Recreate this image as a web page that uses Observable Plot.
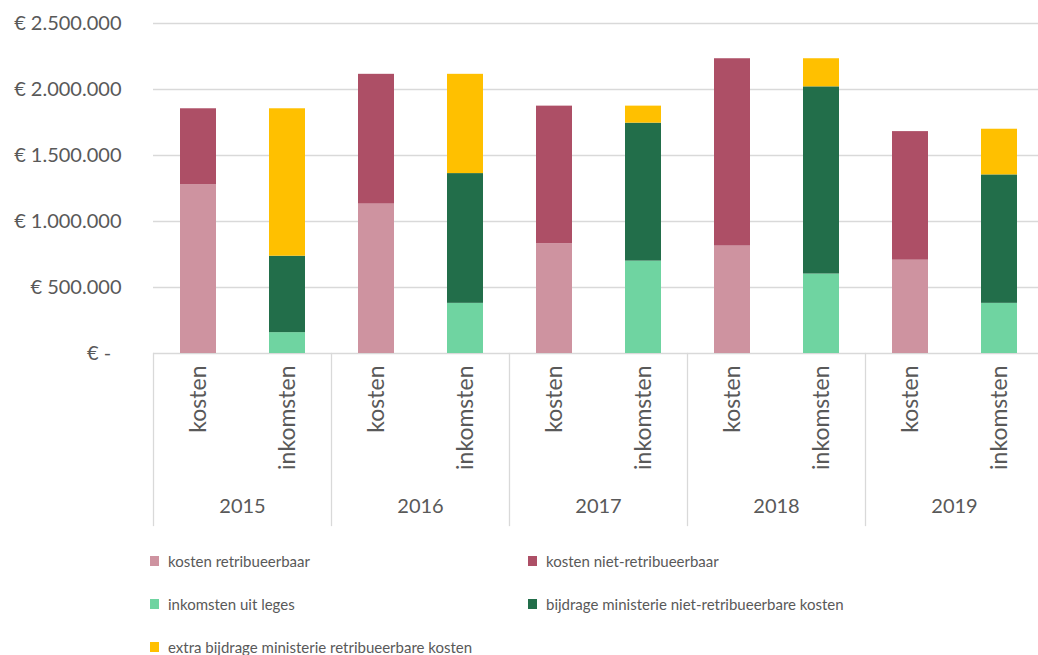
<!DOCTYPE html>
<html>
<head>
<meta charset="utf-8">
<script src="https://cdn.jsdelivr.net/npm/d3@7"></script>
<script src="https://cdn.jsdelivr.net/npm/@observablehq/plot@0.6"></script>
<style>
  body { margin: 0; background: white; font-family: Lato, sans-serif; color: #595959; }
  #legend { display: grid; grid-template-columns: 378px 420px; padding-left: 150px; padding-top: 20px; row-gap: 22px; font-size: 15px; }
  #legend .item { display: flex; align-items: center; height: 21px; }
  #legend .sw { width: 9px; height: 10px; margin-right: 9px; display: inline-block; }
</style>
</head>
<body>
<div id="chart"></div>
<div id="legend"></div>
<script>
const years = ["2015", "2016", "2017", "2018", "2019"];
const types = ["kosten", "inkomsten"];
const seriesNames = [
  "kosten retribueerbaar",
  "kosten niet-retribueerbaar",
  "inkomsten uit leges",
  "bijdrage ministerie niet-retribueerbare kosten",
  "extra bijdrage ministerie retribueerbare kosten"
];
const seriesColors = ["#CE93A0", "#AD4F66", "#6FD4A1", "#226E4A", "#FFC000"];
const kostenRetribueerbaar = [1278000, 1132000, 832000, 814000, 707000];
const kostenNietRetribueerbaar = [576000, 983000, 1042000, 1419000, 974000];
const inkomstenLeges = [158000, 380000, 700000, 602000, 380000];
const bijdrageMinisterie = [579000, 983000, 1045000, 1418000, 973000];
const extraBijdrage = [1117000, 752000, 129000, 213000, 346000];
const yTicks = [0, 500000, 1000000, 1500000, 2000000, 2500000];

const data = [];
years.forEach((year, i) => {
  data.push({year, type: "kosten", series: seriesNames[0], value: kostenRetribueerbaar[i]});
  data.push({year, type: "kosten", series: seriesNames[1], value: kostenNietRetribueerbaar[i]});
  data.push({year, type: "inkomsten", series: seriesNames[2], value: inkomstenLeges[i]});
  data.push({year, type: "inkomsten", series: seriesNames[3], value: bijdrageMinisterie[i]});
  data.push({year, type: "inkomsten", series: seriesNames[4], value: extraBijdrage[i]});
});

const fmt = d => d === 0 ? "€ -\u00A0\u00A0" : "€ " + d3.format(",")(d).replace(/,/g, ".");

const chart = Plot.plot({
  width: 1038,
  height: 530,
  marginTop: 23,
  marginLeft: 152,
  marginRight: -6,
  marginBottom: 177,
  style: {fontFamily: "Lato, sans-serif", fontSize: "20px", color: "#595959", background: "white"},
  fx: {domain: years, padding: 0, label: null, axis: null},
  x: {domain: types, paddingInner: 0.6, paddingOuter: 0.3, label: null, axis: null},
  y: {domain: [0, 2500000], label: null, axis: null},
  color: {domain: seriesNames, range: seriesColors},
  marks: [
    Plot.gridY({ticks: yTicks, stroke: "#d9d9d9", strokeOpacity: 1, strokeWidth: 1.3}),
    Plot.frame({anchor: "left", stroke: "#d9d9d9", strokeWidth: 1.3, insetTop: 330, insetBottom: -172}),
    Plot.barY(data, {fx: "year", x: "type", y: "value", fill: "series"}),
    Plot.axisY({ticks: yTicks, tickSize: 0, tickPadding: 32, tickFormat: fmt, fontSize: 20}),
    Plot.axisX({anchor: "bottom", tickSize: 0, rotate: -90, textAnchor: "end", lineAnchor: "middle", tickPadding: 12, fontSize: 23}),
    Plot.axisFx({anchor: "bottom", tickSize: 0, tickPadding: 145, fontSize: 20})
  ]
});
document.getElementById("chart").appendChild(chart);

const legend = document.getElementById("legend");
seriesNames.forEach((name, i) => {
  const item = document.createElement("div");
  item.className = "item";
  const sw = document.createElement("span");
  sw.className = "sw";
  sw.style.background = seriesColors[i];
  item.appendChild(sw);
  item.appendChild(document.createTextNode(name));
  legend.appendChild(item);
});
</script>
</body>
</html>
